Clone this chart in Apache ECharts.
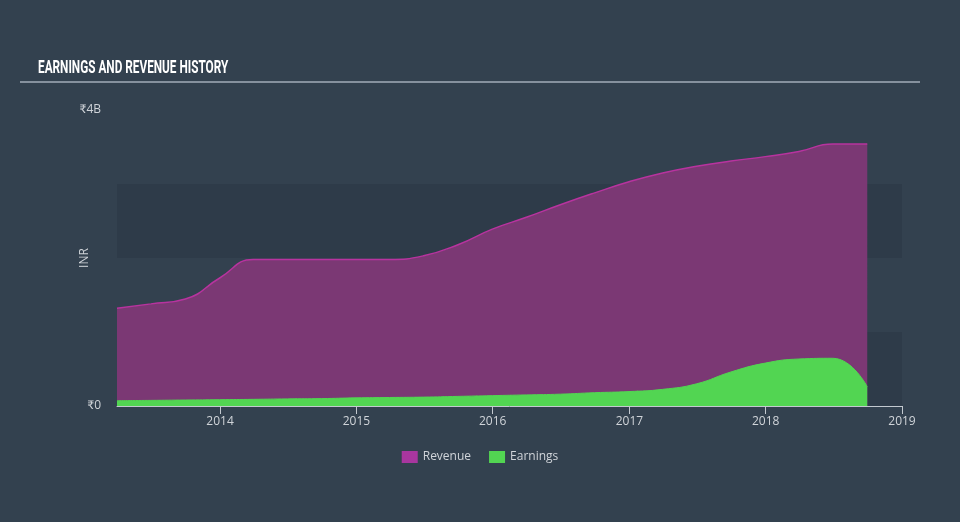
<!DOCTYPE html>
<html>
<head>
<meta charset="utf-8">
<script src="https://cdn.jsdelivr.net/npm/echarts@6/dist/echarts.min.js"></script>
<style>
html,body{margin:0;padding:0;background:#33414f;}
#chart{width:960px;height:522px;}
</style>
</head>
<body>
<div id="chart"></div>
<script>
var quarters = ['2013-03-31','2013-06-30','2013-09-30','2013-12-31',
  '2014-03-31','2014-06-30','2014-09-30','2014-12-31',
  '2015-03-31','2015-06-30','2015-09-30','2015-12-31',
  '2016-03-31','2016-06-30','2016-09-30','2016-12-31',
  '2017-03-31','2017-06-30','2017-09-30','2017-12-31',
  '2018-03-31','2018-06-30','2018-09-30'];
var revenue = [1.32,1.38,1.445,1.73,
  1.98,1.98,1.98,1.98,
  1.98,2.03,2.18,2.39,
  2.55,2.72,2.88,3.03,
  3.15,3.24,3.31,3.37,
  3.44,3.54,3.54];
var earnings = [0.072,0.076,0.081,0.085,
  0.09,0.096,0.10,0.11,
  0.115,0.12,0.13,0.14,
  0.15,0.16,0.18,0.195,
  0.225,0.30,0.46,0.58,
  0.635,0.645,0.26];
var yearTicks = ['2014-01-01','2015-01-01','2016-01-01','2017-01-01','2018-01-01','2019-01-01'];
var yearLabels = ['2014','2015','2016','2017','2018','2019'];
var seriesNames = ['Revenue','Earnings'];
var titleText = 'EARNINGS AND REVENUE HISTORY';

function ts(d){ return new Date(d + 'T00:00:00Z').getTime(); }
var tickTs = yearTicks.map(ts);
function pairs(vals){
  return quarters.map(function(q,i){return [ts(q), vals[i]];});
}

var chart = echarts.init(document.getElementById('chart'), null, {renderer:'canvas'});
var font = 'Open Sans, Lato, sans-serif';
chart.setOption({
  backgroundColor: '#33414f',
  animation: false,
  graphic: [
    {
      type:'text', x:38, y:59, scaleX:0.655, scaleY:1.05,
      style:{text:titleText, fill:'#ffffff', fontSize:18, fontWeight:'bold', fontFamily:'Roboto, sans-serif'}
    },
    {
      type:'line', shape:{x1:20,y1:82,x2:920,y2:82},
      style:{stroke:'#a3adb8', lineWidth:1.5}
    }
  ],
  legend: {
    data: seriesNames,
    bottom: 54, left: 'center',
    itemWidth: 16, itemHeight: 12, itemGap: 18,
    icon: 'rect',
    textStyle: {color:'#d0d4d9', fontSize:12, fontFamily:font}
  },
  grid: {left:117, right:58, top:110, bottom:116, containLabel:false},
  xAxis: {
    type: 'value',
    min: ts(quarters[0]),
    max: tickTs[tickTs.length-1],
    axisLine: {show:true, lineStyle:{color:'#c3c9d0', width:1}},
    axisTick: {show:true, length:8, lineStyle:{color:'#c3c9d0'}, customValues: tickTs},
    axisLabel: {
      color:'#d0d4d9', fontSize:12, fontFamily:font, margin:10,
      customValues: tickTs,
      formatter: function(v){
        var i = tickTs.indexOf(v);
        return i >= 0 ? yearLabels[i] : '';
      }
    },
    splitLine: {show:false}
  },
  yAxis: {
    type: 'value',
    min: 0, max: 4, interval: 1,
    name: 'INR', nameLocation: 'middle', nameGap: 26, nameMoveOverlap: false,
    nameTextStyle: {color:'#d0d4d9', fontSize:12, fontFamily:font},
    axisLine: {show:false},
    axisTick: {show:false},
    axisLabel: {
      color:'#d0d4d9', fontSize:12, fontFamily:font, margin:16,
      formatter: function(v){
        if (v === 0) return '₹0';
        if (v === 4) return '₹4B';
        return '';
      }
    },
    splitLine: {show:false},
    splitArea: {show:true, areaStyle:{color:['#2e3b49','rgba(0,0,0,0)']}}
  },
  series: [
    {
      name: seriesNames[0], type:'line', data: pairs(revenue),
      smooth: 0.5, symbol:'none',
      itemStyle:{color:'#a8369f'},
      lineStyle:{color:'#b8339f', width:1.5},
      areaStyle:{color:'#7b3874', opacity:1}
    },
    {
      name: seriesNames[1], type:'line', data: pairs(earnings),
      smooth: 0.5, symbol:'none',
      itemStyle:{color:'#52d552'},
      lineStyle:{color:'#52d552', width:1},
      areaStyle:{color:'#52d552', opacity:1}
    }
  ]
});
</script>
</body>
</html>
